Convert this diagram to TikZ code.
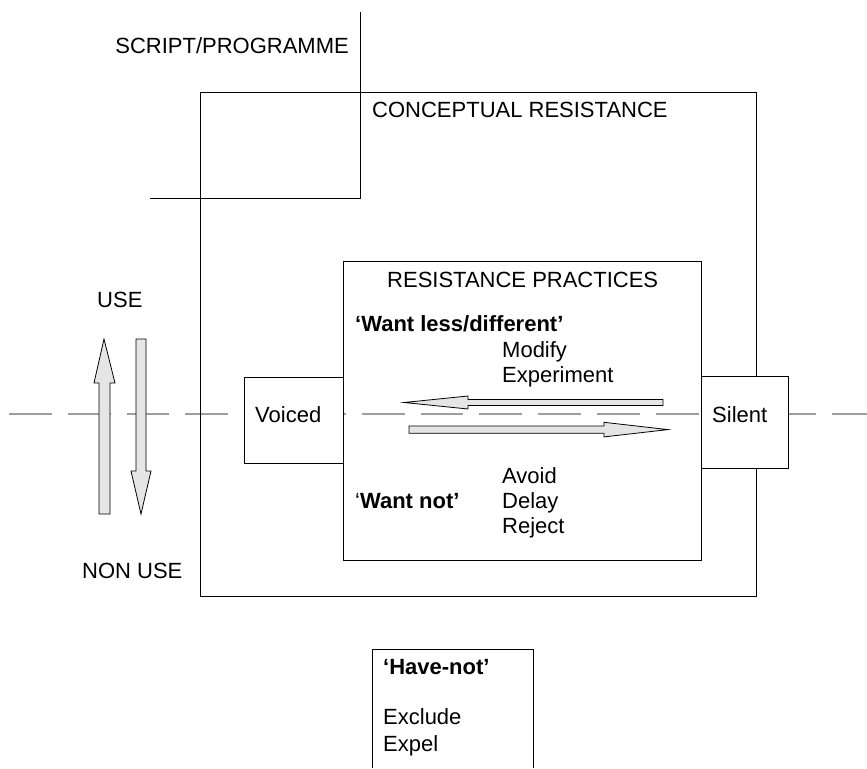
\documentclass[tikz,border=0pt]{standalone}
\usepackage{fontspec}
\setmainfont{Liberation Sans}
\begin{document}
\begin{tikzpicture}[x=1pt,y=-1pt,
  txt/.style={anchor=base west, inner sep=0pt, font=\fontsize{22}{25}\selectfont},
  boxline/.style={draw=black, line width=1pt, inner sep=0pt, anchor=north west},
  wbox/.style={boxline, fill=white},
  garrow/.style={draw=black, line width=0.8pt, fill=black!10, line join=miter},
  axisline/.style={draw=black!38, line width=2.8pt, dash pattern=on 42.8pt off 16pt, dash phase=49.8pt}]
\useasboundingbox (0,0) rectangle (867,768);
% horizontal dashed axis
\coordinate (dl) at (0,414);
\coordinate (dr) at (867,414);
\draw[axisline] (dl) -- (dr);
% script / programme corner
\coordinate (s1) at (360,12);
\coordinate (s2) at (360,198);
\coordinate (s3) at (150,198);
\draw[line width=1pt] (s1) -- (s2) -- (s3);
\node[txt, anchor=base east] (script) at (349,53) {SCRIPT/PROGRAMME};
% conceptual resistance box
\node[boxline, minimum width=556pt, minimum height=504pt] (concept) at (200,92) {};
\node[txt] (conceptlbl) at (372,117) {CONCEPTUAL RESISTANCE};
% resistance practices box
\node[boxline, minimum width=358pt, minimum height=299pt] (practice) at (343,261) {};
\node[txt] (practicelbl) at (387,287) {RESISTANCE PRACTICES};
\node[txt] (wantless) at (355,331) {\bfseries ‘Want less/different’};
\node[txt] (modify) at (502,357) {Modify};
\node[txt] (experiment) at (502,382) {Experiment};
\node[txt] (wantnot) at (355,508) {‘\bfseries Want not’};
\node[txt] (avoid) at (502,483) {Avoid};
\node[txt] (delay) at (502,508) {Delay};
\node[txt] (reject) at (502,533) {Reject};
% voiced / silent
\node[wbox, minimum width=99pt, minimum height=86pt] (voiced) at (244,377) {};
\node[txt] (voicedlbl) at (255,422) {Voiced};
\node[wbox, minimum width=87pt, minimum height=92pt] (silent) at (701,376) {};
\node[txt] (silentlbl) at (712,422) {Silent};
% horizontal arrows
\draw[garrow] (663,399.5) -- (468,399.5) -- (468,396) -- (404,402.5) -- (468,409) -- (468,405.5) -- (663,405.5) -- cycle;
\draw[garrow] (409,426) -- (604,426) -- (604,422.3) -- (668,429.6) -- (604,436.9) -- (604,433.3) -- (409,433.3) -- cycle;
% vertical arrows
\draw[garrow] (99,514) -- (99,383) -- (94,383) -- (104,339) -- (115,383) -- (110,383) -- (110,514) -- cycle;
\draw[garrow] (136,339) -- (146,339) -- (146,471) -- (151,471) -- (141,514) -- (131,471) -- (136,471) -- cycle;
\node[txt] (use) at (97,307) {USE};
\node[txt] (nonuse) at (82,578) {NON USE};
% have-not box (open at bottom)
\coordinate (h1) at (372,768);
\coordinate (h2) at (372,649);
\coordinate (h3) at (533,649);
\coordinate (h4) at (533,768);
\draw[line width=1pt] (h1) -- (h2) -- (h3) -- (h4);
\node[txt] (havenot) at (383,674) {\bfseries ‘Have-not’};
\node[txt] (exclude) at (383,724) {Exclude};
\node[txt] (expel) at (383,751) {Expel};
\end{tikzpicture}
\end{document}
